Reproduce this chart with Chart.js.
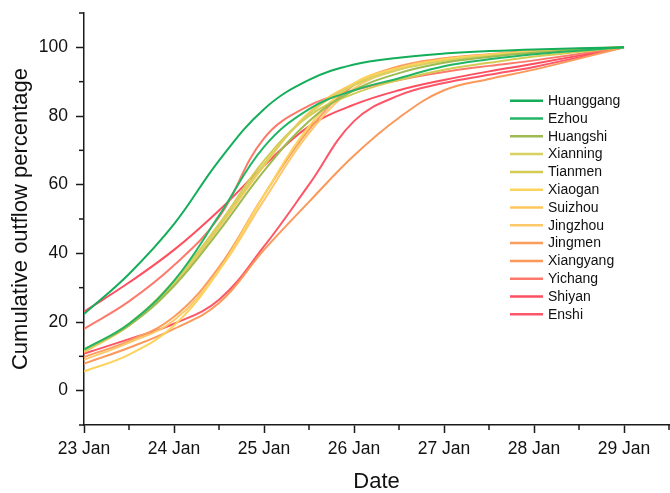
<!DOCTYPE html>
<html>
<head>
<meta charset="utf-8">
<title>Cumulative outflow percentage</title>
<script src="https://cdn.jsdelivr.net/npm/chart.js@4.4.1/dist/chart.umd.min.js"></script>
<style>
  html, body { margin: 0; padding: 0; background: #fff; }
  #wrap { width: 670px; height: 493px; }
</style>
</head>
<body>
<div id="wrap"><canvas id="chart" width="670" height="493"></canvas></div>
<script>
// days after 23 Jan
const days = [0, 0.5, 1, 1.5, 2, 2.5, 3, 3.5, 4, 4.5, 5, 6];
const dayLabels = ["23 Jan", "24 Jan", "25 Jan", "26 Jan", "27 Jan", "28 Jan", "29 Jan"];

const cities = ["Huanggang", "Ezhou", "Huangshi", "Xianning", "Tianmen", "Xiaogan", "Suizhou",
  "Jingzhou", "Jingmen", "Xiangyang", "Yichang", "Shiyan", "Enshi"];
const colors = ["#14ad5a", "#24b466", "#9dbb50", "#d8d160", "#d4cb52", "#fdd35e", "#fec65c",
  "#fdc86a", "#fb9d5e", "#fb985a", "#fc7a6c", "#fc4f5f", "#fd5668"];

const huanggang = [22.3, 34, 48.5, 67, 82, 90.5, 95, 97, 98.2, 98.9, 99.4, 100];
const ezhou = [12, 19.5, 32, 51, 71, 82, 87.5, 91, 94.5, 96.5, 98, 100];
const huangshi = [12, 19, 30.5, 46.5, 64, 78.5, 87.5, 92.5, 95.5, 97.2, 98.4, 100];
const xianning = [11.5, 19, 31.5, 48, 66, 80.5, 89, 93.5, 96, 97.5, 98.6, 100];
const tianmen = [11.8, 19.5, 32, 48.5, 67, 80, 86.5, 90.5, 93.5, 95.5, 97.3, 100];
const xiaogan = [5.6, 10.5, 19, 35, 57, 77, 89.5, 94, 96.5, 97.8, 98.8, 100];
const suizhou = [11.2, 19, 31, 47.5, 65.5, 81, 89.5, 94, 96.5, 97.8, 98.8, 100];
const jingzhou = [9.0, 14, 20.5, 35, 55.5, 75, 88, 93.5, 96.3, 97.8, 98.8, 100];
const jingmen = [9.8, 14.5, 21.5, 36, 57, 76, 89, 94.5, 96.8, 98, 99, 100];
const xiangyang = [7.9, 12.5, 18, 25.5, 41, 55, 68.5, 79.5, 87.5, 90.8, 93.5, 100];
const yichang = [18, 26, 36.5, 50.5, 73.5, 83, 87.5, 90.5, 92.8, 94.6, 96.2, 100];
const shiyan = [23, 31.5, 41, 52.5, 65.5, 77, 83.3, 87.5, 90.5, 93, 95.2, 100];
const enshi = [10.8, 15, 19.5, 26.5, 42, 60, 78.5, 86, 89.6, 92, 94.3, 100];

const series = [huanggang, ezhou, huangshi, xianning, tianmen, xiaogan, suizhou,
  jingzhou, jingmen, xiangyang, yichang, shiyan, enshi];

const FONT = "'Liberation Sans', Arial, sans-serif";
const axisColor = "#1a1a1a";

const datasets = series.map((vals, i) => ({
  label: cities[i],
  data: vals.map((v, j) => ({ x: days[j], y: v })),
  borderColor: colors[i],
  borderWidth: 2,
  pointRadius: 0,
  tension: 0.4,
  fill: false,
}));

// small ticks between the labelled ones
const minorTicks = {
  id: "minorTicks",
  afterDraw(chart) {
    const { ctx } = chart;
    const x = chart.scales.x;
    const y = chart.scales.y;
    ctx.save();
    ctx.strokeStyle = axisColor;
    ctx.lineWidth = 1.5;
    x.ticks.forEach((t) => {
      if (Number.isInteger(t.value)) return;
      const px = x.getPixelForValue(t.value);
      ctx.beginPath();
      ctx.moveTo(px, x.top);
      ctx.lineTo(px, x.top + 5);
      ctx.stroke();
    });
    y.ticks.forEach((t) => {
      if (t.value % 20 === 0) return;
      const py = y.getPixelForValue(t.value);
      ctx.beginPath();
      ctx.moveTo(y.right, py);
      ctx.lineTo(y.right - 5, py);
      ctx.stroke();
    });
    ctx.restore();
  },
};

// legend list inside the plot, top right
const sideLegend = {
  id: "sideLegend",
  afterDraw(chart) {
    const { ctx } = chart;
    const x0 = 510, y0 = 100.7, rowH = 17.8;
    ctx.save();
    ctx.font = "14px " + FONT;
    ctx.textBaseline = "middle";
    ctx.fillStyle = "#111";
    chart.data.datasets.forEach((ds, i) => {
      const yy = y0 + i * rowH;
      ctx.strokeStyle = ds.borderColor;
      ctx.lineWidth = 2.5;
      ctx.beginPath();
      ctx.moveTo(x0, yy);
      ctx.lineTo(x0 + 33, yy);
      ctx.stroke();
      ctx.fillText(ds.label, x0 + 38, yy + 0.5);
    });
    ctx.restore();
  },
};

new Chart(document.getElementById("chart"), {
  type: "line",
  data: { datasets },
  options: {
    responsive: false,
    devicePixelRatio: 1,
    animation: false,
    layout: { padding: { top: 13, right: 1, left: 0, bottom: 0 } },
    plugins: { legend: { display: false }, tooltip: { enabled: false } },
    scales: {
      x: {
        type: "linear",
        min: 0,
        max: 6.5,
        afterFit: (scale) => {
          scale.height = 68;
          scale.paddingLeft = 0;
          scale.paddingRight = 0;
        },
        border: { color: axisColor, width: 1.5 },
        grid: {
          drawOnChartArea: false,
          tickLength: 8,
          tickWidth: 1.5,
          tickColor: (c) => (c.tick && Number.isInteger(c.tick.value) ? axisColor : "transparent"),
        },
        ticks: {
          stepSize: 0.5,
          autoSkip: false,
          maxRotation: 0,
          padding: 6,
          color: "#111",
          font: { family: FONT, size: 17.5 },
          callback: (v) => (Number.isInteger(v) ? dayLabels[v] : ""),
        },
        title: {
          display: true,
          text: "Date",
          color: "#111",
          font: { family: FONT, size: 22, lineHeight: 1 },
          padding: { top: 0, bottom: 0 },
        },
      },
      y: {
        min: -10,
        max: 110,
        afterFit: (scale) => {
          scale.width = 84;
          scale.paddingTop = 0;
          scale.paddingBottom = 0;
        },
        border: { color: axisColor, width: 1.5 },
        grid: {
          drawOnChartArea: false,
          tickLength: 8,
          tickWidth: 1.5,
          tickColor: (c) => (c.tick && c.tick.value % 20 === 0 ? axisColor : "transparent"),
        },
        ticks: {
          stepSize: 10,
          autoSkip: false,
          padding: 8,
          color: "#111",
          font: { family: FONT, size: 17.5 },
          callback: (v) => (v % 20 === 0 ? String(v) : ""),
        },
        title: {
          display: true,
          text: "Cumulative outflow percentage",
          color: "#111",
          font: { family: FONT, size: 22, lineHeight: 1 },
          padding: { top: 9.5, bottom: 0 },
        },
      },
    },
  },
  plugins: [minorTicks, sideLegend],
});
</script>
</body>
</html>
